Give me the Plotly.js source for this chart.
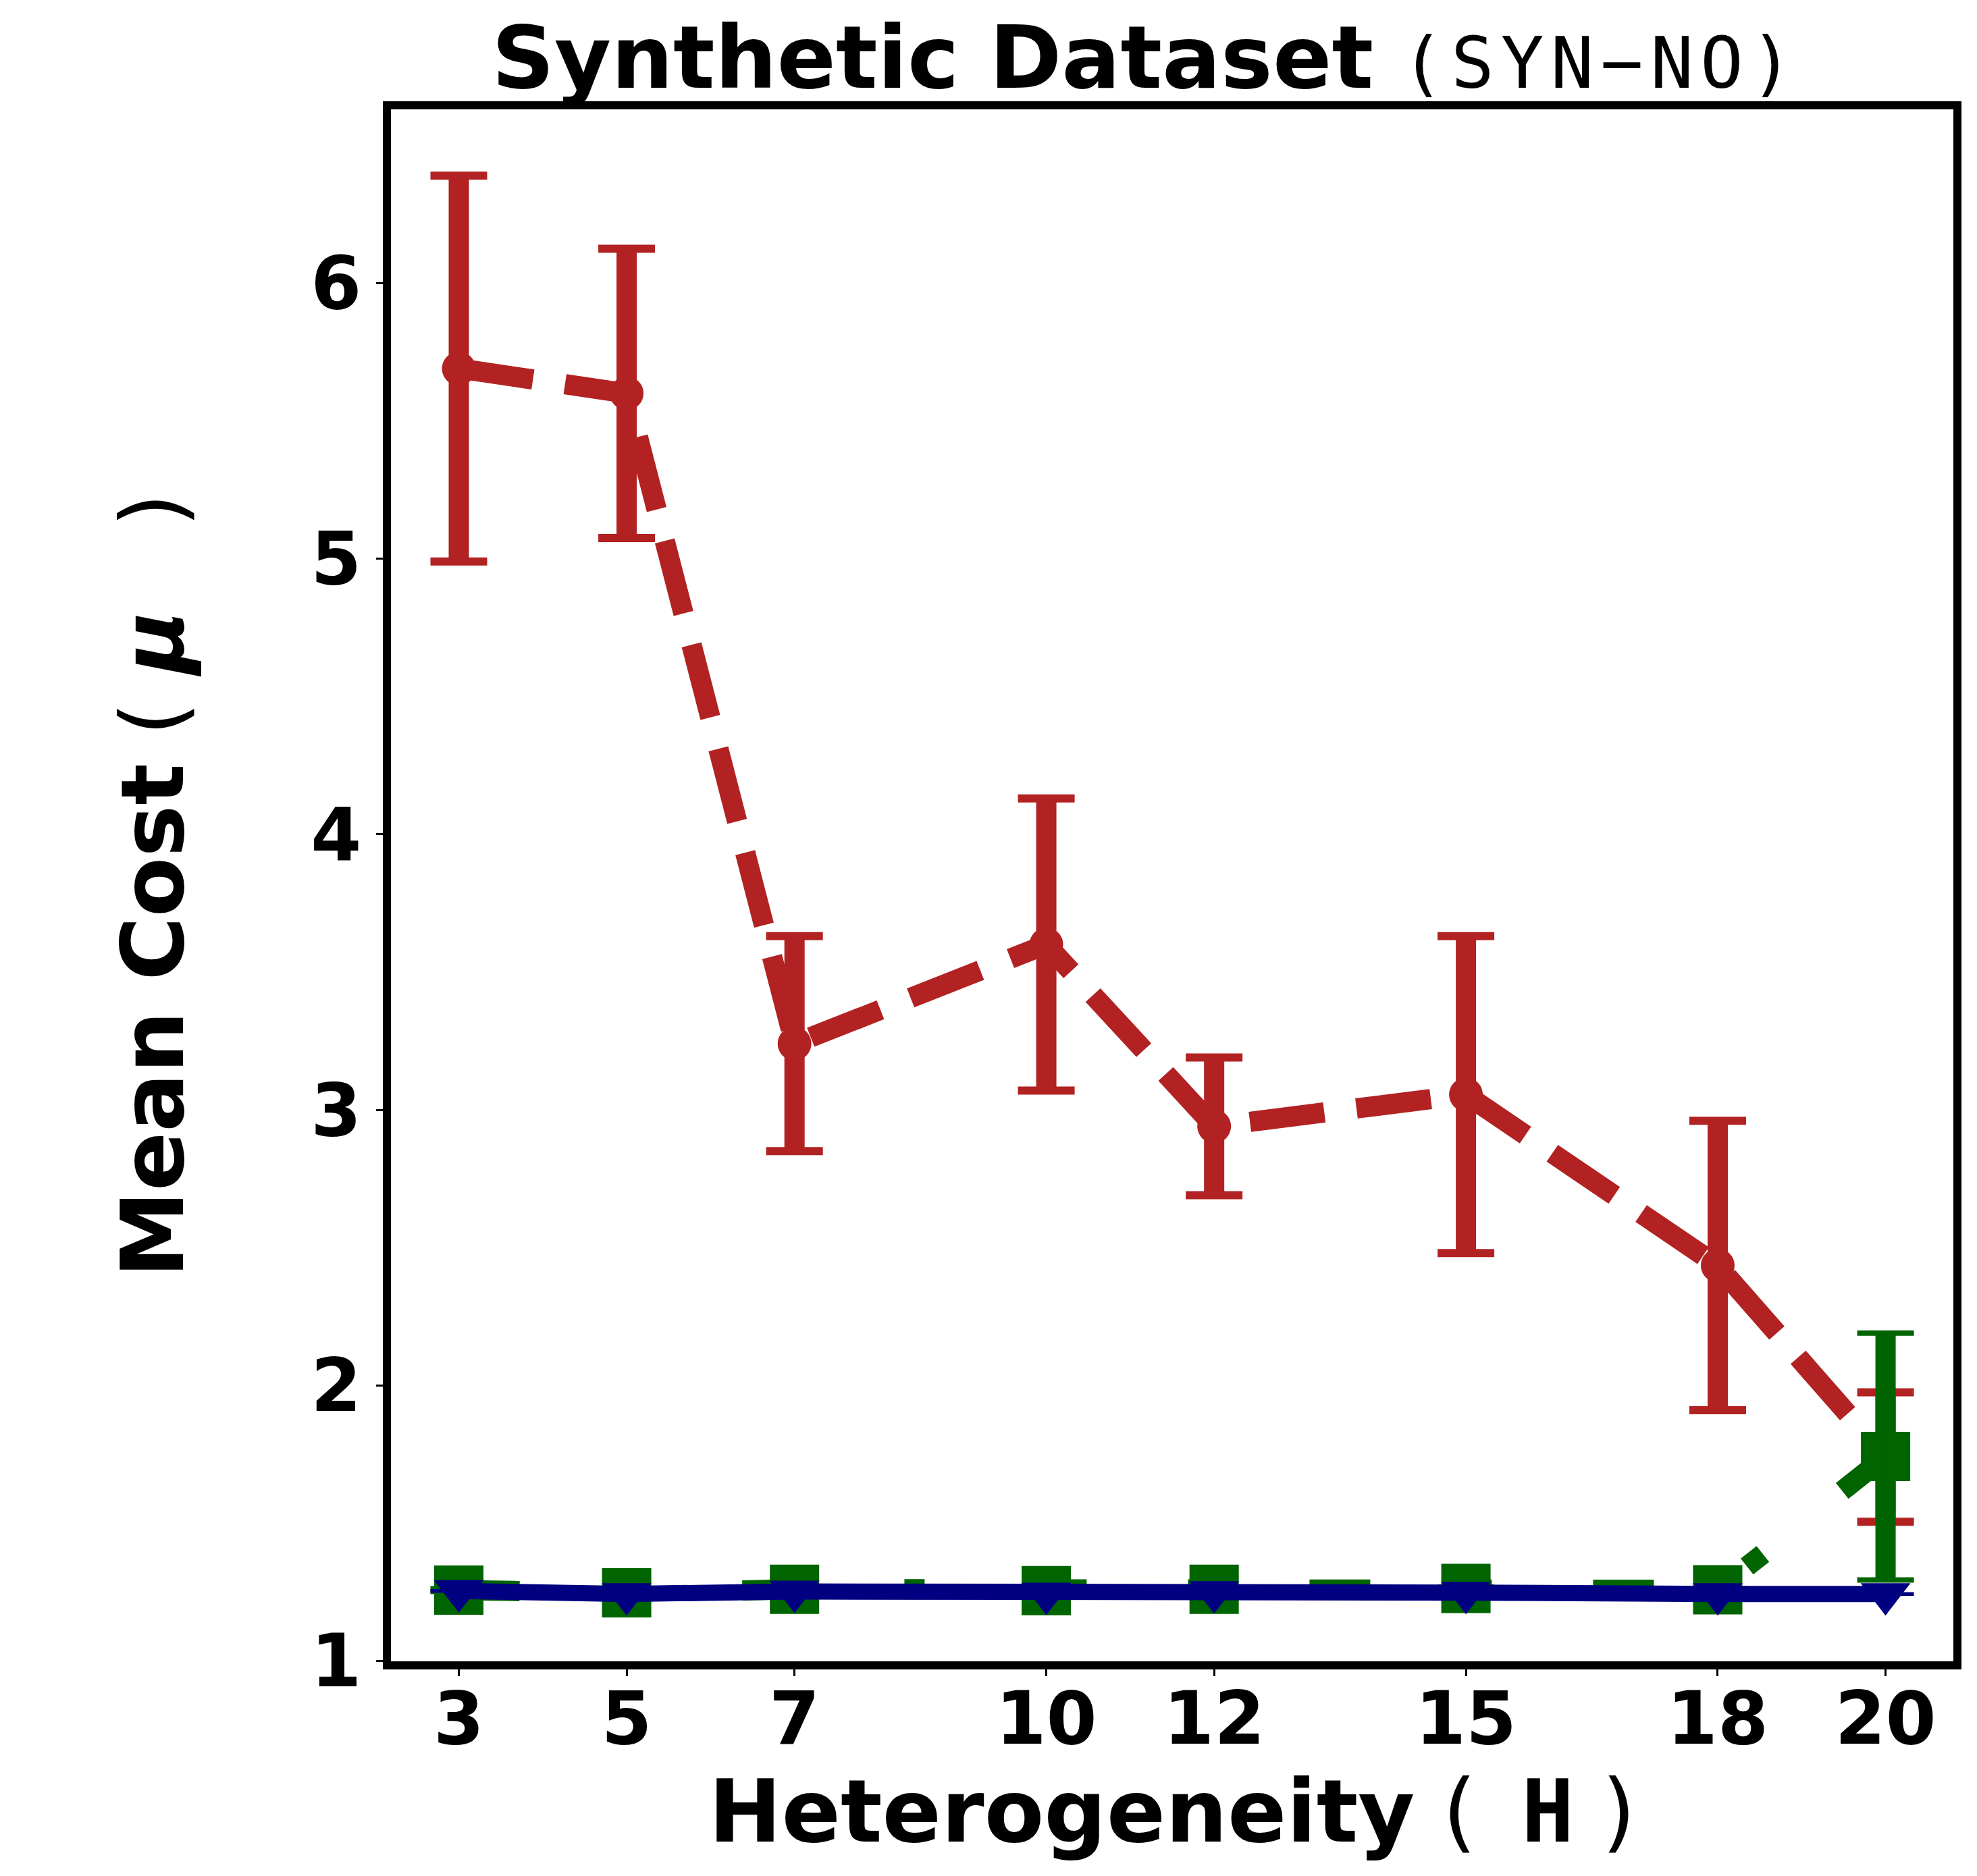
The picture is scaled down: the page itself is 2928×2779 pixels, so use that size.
<!DOCTYPE html>
<html>
<head>
<meta charset="utf-8">
<script src="https://cdn.plot.ly/plotly-3.0.1.min.js"></script>
<style>html,body{margin:0;padding:0;background:#fff;}</style>
</head>
<body>
<div id="chart" style="width:2928px;height:2779px;"></div>
<script>
// ---- data ----
const heterogeneity = [3, 5, 7, 10, 12, 15, 18, 20];
const xTickLabels = ['3', '5', '7', '10', '12', '15', '18', '20'];
const yTickValues = [1, 2, 3, 4, 5, 6];

const redMean  = [5.69, 5.60, 3.24, 3.60, 2.94, 3.055, 2.435, 1.74];
const redErr   = [0.70, 0.525, 0.39, 0.53, 0.25, 0.575, 0.525, 0.235];

const greenMean = [1.257, 1.247, 1.260, 1.255, 1.260, 1.263, 1.258, 1.742];
const greenErr  = [0.005, 0.005, 0.005, 0.005, 0.005, 0.005, 0.005, 0.448];

const blueMean = [1.254, 1.243, 1.252, 1.245, 1.250, 1.248, 1.243, 1.243];
const blueErr  = [0.002, 0.002, 0.002, 0.002, 0.002, 0.002, 0.002, 0.002];

const RED = '#b22222', GREEN = '#006400', BLUE = '#000080';
const FONT = 'DejaVu Sans';

function stemTrace(y, err, color, line, marker) {
  return {
    x: heterogeneity, y: y, type: 'scatter',
    mode: 'lines+markers', line: line, marker: marker,
    error_y: {type: 'data', array: err, visible: true, color: color, thickness: 30, width: 0},
    hoverinfo: 'skip', showlegend: false
  };
}
function capTrace(y, err, color, capThick) {
  return {
    x: heterogeneity, y: y, type: 'scatter', mode: 'markers',
    marker: {size: 1, opacity: 0, color: color},
    error_y: {type: 'data', array: err, visible: true, color: color, thickness: capThick, width: 42},
    hoverinfo: 'skip', showlegend: false
  };
}

const traces = [
  stemTrace(redMean, redErr, RED,
    {color: RED, width: 30, dash: '111px,48px'},
    {symbol: 'circle', size: 50, color: RED}),
  capTrace(redMean, redErr, RED, 12),
  stemTrace(greenMean, greenErr, GREEN,
    {color: GREEN, width: 30, dash: '90px,150px,30px,150px'},
    {symbol: 'square', size: 73, color: GREEN}),
  capTrace(greenMean, greenErr, GREEN, 8),
  stemTrace(blueMean, blueErr, BLUE,
    {color: BLUE, width: 24},
    {symbol: 'triangle-down', size: 64, color: BLUE}),
  capTrace(blueMean, blueErr, BLUE, 4)
];

const axisCommon = {
  showline: true, linewidth: 12, linecolor: '#000', mirror: true,
  showgrid: false, zeroline: false,
  ticks: 'outside', ticklen: 10, tickwidth: 3, tickcolor: '#000',
  tickfont: {family: FONT, size: 108, color: '#000', weight: 'bold'}
};

const layout = {
  width: 2928, height: 2779,
  paper_bgcolor: '#fff', plot_bgcolor: '#fff',
  margin: {l: 579, r: 35, t: 162, b: 318, pad: 0},
  font: {family: FONT, color: '#000'},
  title: {
    text: '<b>Synthetic Dataset</b> <span style="font-family:\'DejaVu Sans Mono\';font-size:106px;letter-spacing:10px">(SYN\u2212NO)</span>',
    font: {family: FONT, size: 129, color: '#000'},
    xref: 'paper', x: 0.4831, xanchor: 'center',
    yref: 'container', y: 0.9695, yanchor: 'middle'
  },
  xaxis: Object.assign({}, axisCommon, {
    range: [2.1915, 20.808],
    tickmode: 'array', tickvals: heterogeneity, ticktext: xTickLabels,
    ticklabelstandoff: -30,
    title: {
      text: '<b>Heterogeneity</b> ( \u2009<b style="font-family:\'DejaVu Sans Mono\'">H</b> )',
      font: {family: FONT, size: 129, color: '#000'},
      standoff: 0
    }
  }),
  yaxis: Object.assign({}, axisCommon, {
    range: [0.9985, 6.6306],
    tickmode: 'array', tickvals: yTickValues, ticktext: yTickValues.map(String),
    title: {
      text: '<b>Mean Cost</b> ( <b><i>\u03bc</i></b>\u00a0\u00a0 )',
      font: {family: FONT, size: 129, color: '#000'},
      standoff: 150
    }
  })
};

Plotly.newPlot('chart', traces, layout, {displayModeBar: false, staticPlot: true});
</script>
</body>
</html>
